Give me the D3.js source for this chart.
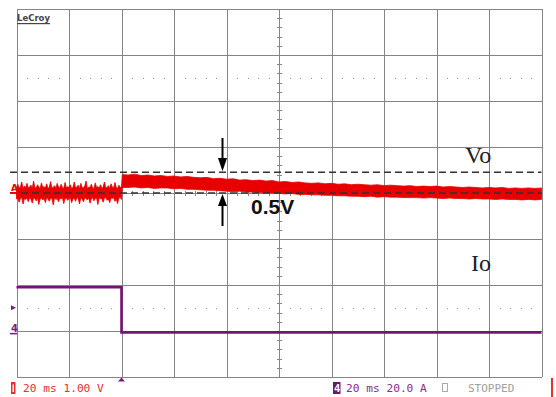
<!DOCTYPE html>
<html>
<head>
<meta charset="utf-8">
<script src="https://cdn.jsdelivr.net/npm/d3@7"></script>
<style>
  body { margin: 0; background: #fff; }
  svg { display: block; }
</style>
</head>
<body>
<div id="scope"></div>
<script>
// Vo trace envelope (volts, 1 V/div)
// before the load step: sampled every 0.5 ms
const preTime = d3.range(0, 40.25, 0.5);
const preTop = [0.12,0.19,0.11,0.13,0.24,0.10,0.15,0.12,0.21,0.11,
  0.13,0.17,0.10,0.26,0.12,0.11,0.18,0.13,0.10,0.22,
  0.12,0.14,0.11,0.20,0.10,0.13,0.25,0.11,0.12,0.16,
  0.10,0.21,0.13,0.11,0.19,0.12,0.10,0.23,0.11,0.14,
  0.12,0.18,0.10,0.12,0.24,0.11,0.13,0.17,0.10,0.21,
  0.12,0.11,0.15,0.26,0.10,0.13,0.12,0.19,0.11,0.10,
  0.22,0.12,0.14,0.11,0.18,0.10,0.13,0.24,0.11,0.12,
  0.16,0.10,0.20,0.13,0.11,0.23,0.12,0.10,0.17,0.12,
  0.14];
const preBot = [-0.13,-0.11,-0.20,-0.12,-0.10,-0.24,-0.12,-0.14,-0.11,-0.19,
  -0.10,-0.13,-0.22,-0.11,-0.12,-0.17,-0.10,-0.25,-0.13,-0.11,
  -0.15,-0.12,-0.21,-0.10,-0.13,-0.18,-0.11,-0.12,-0.26,-0.10,
  -0.14,-0.12,-0.19,-0.11,-0.13,-0.10,-0.23,-0.12,-0.11,-0.16,
  -0.12,-0.10,-0.21,-0.13,-0.11,-0.18,-0.10,-0.12,-0.24,-0.11,
  -0.13,-0.19,-0.10,-0.12,-0.15,-0.11,-0.22,-0.13,-0.10,-0.17,
  -0.12,-0.11,-0.25,-0.10,-0.13,-0.12,-0.20,-0.11,-0.10,-0.16,
  -0.13,-0.21,-0.11,-0.12,-0.10,-0.18,-0.13,-0.23,-0.11,-0.10,
  -0.14];

// after the load step
const postTime = [40.3,42.5,45,47.5,50,52.5,55,57.5,60,62.5,65,67.5,70,72.5,75,77.5,80,82.5,85,87.5,90,92.5,95,97.5,100,
  102.5,105,107.5,110,112.5,115,117.5,120,122.5,125,127.5,130,132.5,135,137.5,140,142.5,145,147.5,150,
  152.5,155,157.5,160,162.5,165,167.5,170,172.5,175,177.5,180,182.5,185,187.5,190,192.5,195,197.5,200];
const postTop = [0.40,0.39,0.41,0.38,0.39,0.37,0.38,0.36,0.37,0.35,0.36,0.34,0.33,0.34,0.31,0.32,0.30,0.31,0.28,0.29,0.27,0.28,0.26,0.27,0.24,
  0.25,0.23,0.24,0.22,0.21,0.22,0.20,0.21,0.19,0.20,0.18,0.19,0.18,0.17,0.18,0.16,0.17,0.16,0.15,0.16,
  0.14,0.15,0.14,0.15,0.13,0.14,0.13,0.12,0.13,0.12,0.11,0.12,0.11,0.12,0.10,0.11,0.10,0.11,0.10,0.11];
const postBot = [0.12,0.12,0.13,0.11,0.12,0.10,0.11,0.11,0.09,0.10,0.08,0.08,0.07,0.06,0.06,0.05,0.04,0.03,0.04,0.02,0.02,0.01,0.00,0.00,-0.01,
  -0.02,-0.01,-0.03,-0.03,-0.04,-0.04,-0.05,-0.05,-0.06,-0.06,-0.07,-0.07,-0.08,-0.07,-0.09,-0.08,-0.09,-0.09,-0.10,-0.10,
  -0.10,-0.11,-0.10,-0.11,-0.12,-0.11,-0.12,-0.12,-0.13,-0.12,-0.13,-0.13,-0.14,-0.13,-0.14,-0.14,-0.15,-0.14,-0.15,-0.14];

// Io trace (amps, 20 A/div)
const ioTime = [0, 40, 40, 200];
const ioVals = [19.6, 19.6, 0, 0];

// cursor levels on Vo (the 0.5V step)
const cursorLevels = [0, 0.45];

const timeDivs = d3.range(0, 201, 20);   // 20 ms/div
const vertDivs = d3.range(-4, 5, 1);
const voPerDiv = 1.0, ioPerDiv = 20.0, ioOffsetDiv = -3.03;

const width = 556, height = 397;
const svg = d3.select("#scope").append("svg").attr("width", width).attr("height", height);

const x = d3.scaleLinear().domain([0, 200]).range([16.5, 541.5]);
const y = d3.scaleLinear().domain([-4, 4]).range([377, 9]);
const yVo = v => y(v / voPerDiv);
const yIo = a => y(a / ioPerDiv + ioOffsetDiv);

// graticule
const grid = svg.append("g").attr("stroke", "#858585").attr("stroke-width", 1).attr("shape-rendering", "crispEdges");
grid.selectAll(".v").data(timeDivs).join("line")
  .attr("x1", d => Math.round(x(d)) + 0.5).attr("x2", d => Math.round(x(d)) + 0.5)
  .attr("y1", y(4)).attr("y2", y(-4));
grid.selectAll(".h").data(vertDivs).join("line")
  .attr("y1", d => Math.round(y(d)) + 0.5).attr("y2", d => Math.round(y(d)) + 0.5)
  .attr("x1", x(0)).attr("x2", x(200));

// minor ticks on centre lines
const minorT = d3.range(0, 200.1, 4).filter(t => t % 20 !== 0);
const minorV = d3.range(-4, 4.01, 0.2).filter(v => Math.abs(v - Math.round(v)) > 0.01);
grid.selectAll(".mt").data(minorT).join("line")
  .attr("x1", d => Math.round(x(d)) + 0.5).attr("x2", d => Math.round(x(d)) + 0.5)
  .attr("y1", y(0) - 2).attr("y2", y(0) + 3);
grid.selectAll(".mv").data(minorV).join("line")
  .attr("y1", d => Math.round(y(d)) + 0.5).attr("y2", d => Math.round(y(d)) + 0.5)
  .attr("x1", x(100) - 2).attr("x2", x(100) + 3);

// dotted rows
const dotRows = [2.5, -2.5];
dotRows.forEach(r => {
  svg.append("g").selectAll("rect").data(minorT).join("rect")
    .attr("x", d => Math.round(x(d))).attr("y", Math.round(y(r)))
    .attr("width", 1).attr("height", 1).attr("fill", "#999");
});

// Vo trace
const voData = preTime.map((t, i) => ({ t, hi: preTop[i], lo: preBot[i] }))
  .concat(postTime.map((t, i) => ({ t, hi: postTop[i], lo: postBot[i] })));
svg.append("path").datum(voData)
  .attr("fill", "#e80000").attr("stroke", "#e80000").attr("stroke-width", 0.8)
  .attr("d", d3.area().x(d => x(d.t)).y0(d => yVo(d.lo)).y1(d => yVo(d.hi)));

// cursors
svg.append("g").selectAll("line").data(cursorLevels).join("line")
  .attr("x1", 10).attr("x2", x(200))
  .attr("y1", d => yVo(d)).attr("y2", d => yVo(d))
  .attr("stroke", "#333").attr("stroke-width", 1.6).attr("stroke-dasharray", "7,4");

// Io trace
svg.append("path").datum(ioTime.map((t, i) => ({ t, a: ioVals[i] })))
  .attr("fill", "none").attr("stroke", "#741574").attr("stroke-width", 2.6)
  .attr("d", d3.line().x(d => x(d.t)).y(d => yIo(d.a)));

// channel markers
svg.append("text").attr("x", 11).attr("y", 191).text("A")
  .attr("font-family", "DejaVu Sans").attr("font-size", 9).attr("font-weight", "bold").attr("fill", "#e80000");
svg.append("rect").attr("x", 10).attr("y", yVo(0) - 1).attr("width", 7).attr("height", 1.5).attr("fill", "#e80000");
svg.append("path").attr("d", `M11,${yIo(ioVals[0]) + 18}l5,2.5l-5,2.5z`).attr("fill", "#7b1a7b");
svg.append("text").attr("x", 11).attr("y", yIo(0) - 0.5).text("4")
  .attr("font-family", "DejaVu Sans").attr("font-size", 10).attr("font-weight", "bold").attr("fill", "#7b1a7b");
svg.append("rect").attr("x", 10).attr("y", yIo(0) + 0.5).attr("width", 7).attr("height", 1.5).attr("fill", "#7b1a7b");

// trigger marker
svg.append("path").attr("d", `M${x(40)},377.5l3.5,4h-7z`).attr("fill", "#7b1a7b");

// LeCroy logo
svg.append("text").attr("x", 17).attr("y", 21).text("LeCroy")
  .attr("font-family", "DejaVu Sans Condensed, DejaVu Sans").attr("font-size", 9.5).attr("font-weight", "bold")
  .attr("fill", "#444").attr("textLength", 33).attr("lengthAdjust", "spacingAndGlyphs");
svg.append("rect").attr("x", 17).attr("y", 23).attr("width", 33).attr("height", 1.2).attr("fill", "#444");

// annotations
svg.append("text").attr("x", 465).attr("y", 163).text("Vo")
  .attr("font-family", "Liberation Serif").attr("font-size", 24).attr("fill", "#222");
svg.append("text").attr("x", 471).attr("y", 271).text("Io")
  .attr("font-family", "Liberation Serif").attr("font-size", 24).attr("fill", "#222");
svg.append("text").attr("x", 251).attr("y", 214).text("0.5V")
  .attr("font-family", "Liberation Sans").attr("font-size", 21).attr("font-weight", "bold").attr("fill", "#111");

// arrows pointing at the cursors
const ax = 222.5;
const arrows = svg.append("g").attr("fill", "#000").attr("stroke", "#000");
arrows.append("line").attr("x1", ax).attr("x2", ax).attr("y1", 138).attr("y2", 160).attr("stroke-width", 2);
arrows.append("path").attr("stroke", "none").attr("d", `M${ax - 4.5},158L${ax + 4.5},158L${ax},${yVo(cursorLevels[1]) - 1}z`);
arrows.append("line").attr("x1", ax).attr("x2", ax).attr("y1", 204).attr("y2", 226).attr("stroke-width", 2);
arrows.append("path").attr("stroke", "none").attr("d", `M${ax - 4.5},206L${ax + 4.5},206L${ax},${yVo(cursorLevels[0]) + 1}z`);

// status bar
const mono = "DejaVu Sans Mono";
svg.append("rect").attr("x", 11).attr("y", 382).attr("width", 4.5).attr("height", 12).attr("fill", "#e83030");
svg.append("rect").attr("x", 12.5).attr("y", 384.5).attr("width", 1.5).attr("height", 7.5).attr("fill", "#fff");
svg.append("text").attr("x", 23).attr("y", 392).text("20 ms 1.00 V")
  .attr("font-family", mono).attr("font-size", 11.2).attr("fill", "#e83030");
svg.append("rect").attr("x", 333).attr("y", 382).attr("width", 7.5).attr("height", 12).attr("fill", "#6a1a6a");
svg.append("text").attr("x", 334).attr("y", 392).text("4")
  .attr("font-family", mono).attr("font-size", 10.5).attr("font-weight", "bold").attr("fill", "#fff");
svg.append("text").attr("x", 346).attr("y", 392).text("20 ms 20.0 A")
  .attr("font-family", mono).attr("font-size", 11.2).attr("fill", "#8a2a8a");
svg.append("rect").attr("x", 442.5).attr("y", 383.5).attr("width", 5).attr("height", 8)
  .attr("fill", "none").attr("stroke", "#aaa").attr("stroke-width", 1);
svg.append("text").attr("x", 468).attr("y", 392).text("STOPPED")
  .attr("font-family", mono).attr("font-size", 11).attr("fill", "#a0a0a0");
svg.append("rect").attr("x", 551).attr("y", 378).attr("width", 2).attr("height", 19).attr("fill", "#e83030");
</script>
</body>
</html>
